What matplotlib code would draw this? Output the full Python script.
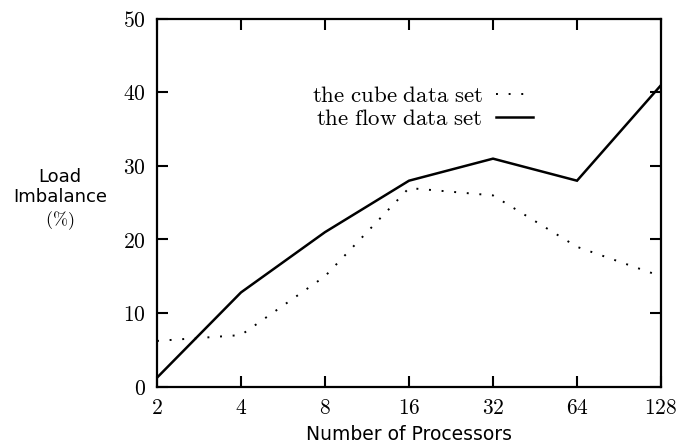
import numpy as np
import matplotlib
matplotlib.use("Agg")
import matplotlib.pyplot as plt
from matplotlib.ticker import FixedLocator, FuncFormatter

plt.rcParams['mathtext.fontset'] = 'cm'

# data
procs = [2, 4, 8, 16, 32, 64, 128]
cube = [6.2, 7, 15, 27, 26, 19, 15]
flow = [1.2, 12.8, 21, 28, 31, 28, 41]

fig = plt.figure(figsize=(6.77, 4.44), dpi=100)
ax = fig.add_axes([157/677, 1-386.5/444, 504/677, 367.5/444])

ax.plot(procs, cube, color="black", lw=1.4, linestyle=(0, (1, 5.5)),
        label=r"$\mathrm{the\ cube\ data\ set}$")
ax.plot(procs, flow, color="black", lw=1.8, solid_joinstyle="miter",
        label=r"$\mathrm{the\ flow\ data\ set}$")

ax.set_xscale("log", base=2)
ax.set_xlim(2, 128)
ax.set_ylim(0, 50)
ax.xaxis.set_major_locator(FixedLocator(procs))
ax.xaxis.set_minor_locator(FixedLocator([]))
ax.xaxis.set_major_formatter(FuncFormatter(lambda v, p: r"$%d$" % round(v)))
ax.yaxis.set_major_locator(FixedLocator([0, 10, 20, 30, 40, 50]))
ax.yaxis.set_major_formatter(FuncFormatter(lambda v, p: r"$%d$" % round(v)))
ax.tick_params(direction="in", length=8, width=1.5, top=True, right=True,
               labelsize=15.5, pad=8)
for s in ax.spines.values():
    s.set_linewidth(1.6)

ax.set_xlabel("Number of Processors", fontsize=13.5, labelpad=5)
fig.text(60/677, 1-200/444, "Load\nImbalance\n" + r"$(\%)$", ha="center",
         va="center", fontsize=13, linespacing=1.2)

leg = ax.legend(loc="upper right", bbox_to_anchor=(0.746, 0.822), frameon=False,
                markerfirst=False, fontsize=16.5, handlelength=1.6,
                handletextpad=0.6, labelspacing=0.0, borderpad=0,
                borderaxespad=0)

fig.savefig("out.png", dpi=100)
